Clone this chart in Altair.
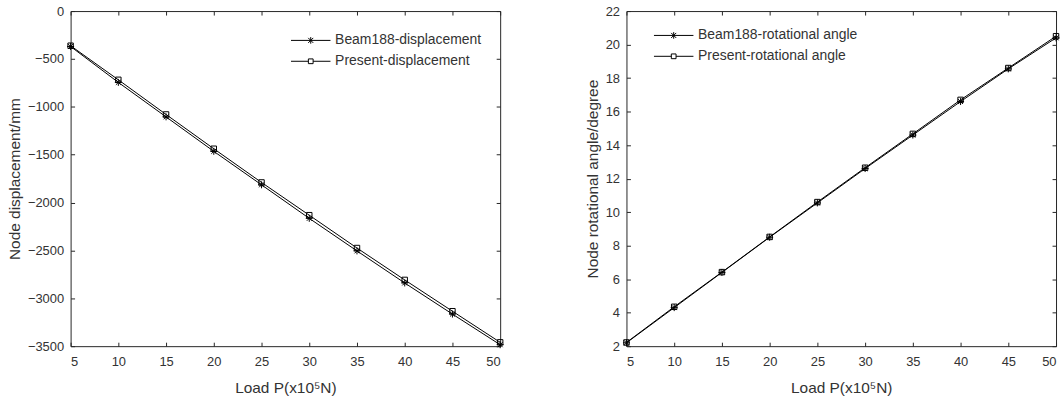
import altair as alt
import pandas as pd

# ---- data ----
P = [5, 10, 15, 20, 25, 30, 35, 40, 45, 50]
beam_disp = [-370, -745, -1105, -1465, -1815, -2165, -2505, -2840, -3165, -3485]
present_disp = [-362, -718, -1080, -1438, -1790, -2132, -2475, -2808, -3135, -3460]
beam_rot = [2.2, 4.3, 6.4, 8.5, 10.55, 12.6, 14.6, 16.6, 18.55, 20.4]
present_rot = [2.22, 4.35, 6.42, 8.52, 10.6, 12.65, 14.67, 16.7, 18.6, 20.5]

x_ticks = [5, 10, 15, 20, 25, 30, 35, 40, 45, 50]
disp_ticks = [0, -500, -1000, -1500, -2000, -2500, -3000, -3500]
rot_ticks = [2, 4, 6, 8, 10, 12, 14, 16, 18, 20, 22]

x_title = "Load P(x10\u2075N)"
FONT = "Liberation Sans, Arial, Helvetica, sans-serif"
TXT = "#333333"
AX = "#262626"

STAR = "M-1,0H1M0,-1V1M-0.7,-0.7L0.7,0.7M-0.7,0.7L0.7,-0.7"
LEG_STAR = "M-3,0H3M0,-0.5V0.5M-0.38,-0.38L0.38,0.38M-0.38,0.38L0.38,-0.38"
LEG_SQUARE = "M-3,0H-0.36M0.36,0H3M-0.36,-0.36H0.36V0.36H-0.36Z"


def panel(beam, present, name_b, name_p, ytitle, ydomain, yticks, lx, ly):
    df = pd.DataFrame({
        "P": P * 2,
        "v": beam + present,
        "s": [name_b] * len(P) + [name_p] * len(P),
    })
    xs = alt.Scale(domain=[5, 50], nice=False, zero=False)
    ys = alt.Scale(domain=ydomain, nice=False, zero=False)
    base = alt.Chart(df)
    expr = "datum.value === '%s' ? '%s' : '%s'" % (name_b, LEG_STAR, LEG_SQUARE)
    line = base.mark_line(strokeWidth=1, color="#000").encode(
        x=alt.X("P:Q", scale=xs, axis=alt.Axis(
            values=x_ticks, title=x_title, orient="bottom", domain=False, format="d",
            tickSize=4, offset=-4, labelPadding=9, titlePadding=13,
            grid=False, tickColor=AX)),
        y=alt.Y("v:Q", scale=ys, axis=alt.Axis(
            values=yticks, title=ytitle, orient="left", domain=False, format="d",
            tickSize=4, offset=-4, labelPadding=7, titlePadding=5,
            grid=False, tickColor=AX)),
        color=alt.Color("s:N", scale=alt.Scale(domain=[name_b, name_p], range=["#000", "#000"]),
                        legend=alt.Legend(
                            title=None, orient="none", legendX=lx, legendY=ly,
                            labelFont=FONT, labelFontSize=14, labelColor=TXT, labelLimit=400,
                            symbolSize=175, labelOffset=17, rowPadding=6, padding=0,
                            symbolStrokeWidth=1, symbolFillColor="transparent",
                            symbolStrokeColor="#000",
                            symbolType={"expr": expr})),
    )
    pts_b = base.transform_filter(alt.datum.s == name_b).mark_point(
        shape=STAR, size=49, filled=False, color="#000", strokeWidth=1, opacity=1
    ).encode(
        x=alt.X("P:Q", scale=xs, axis=alt.Axis(
            values=x_ticks, orient="top", labels=False, title=None, domain=False,
            tickSize=4, offset=-4, grid=False, tickColor=AX)),
        y=alt.Y("v:Q", scale=ys, axis=alt.Axis(
            values=yticks, orient="right", labels=False, title=None, domain=False,
            tickSize=4, offset=-4, grid=False, tickColor=AX)),
    )
    pts_p = base.transform_filter(alt.datum.s == name_p).mark_point(
        shape="square", size=30, filled=False, color="#000", strokeWidth=1, opacity=1
    ).encode(
        x=alt.X("P:Q", scale=xs, axis=None),
        y=alt.Y("v:Q", scale=ys, axis=None),
    )
    return alt.layer(line, pts_b, pts_p).resolve_axis(x="independent", y="independent").properties(
        width=432, height=337)


left = panel(beam_disp, present_disp, "Beam188-displacement", "Present-displacement",
             "Node displacement/mm", [-3500, 0], disp_ticks, 234, 22)
right = panel(beam_rot, present_rot, "Beam188-rotational angle", "Present-rotational angle",
              "Node rotational angle/degree", [2, 22], rot_ticks, 40, 17)

chart = alt.hconcat(left, right, spacing=79).resolve_scale(color="independent").resolve_legend(
    color="independent").properties(
    padding={"left": 6, "top": 3, "right": 0, "bottom": 0},
    background="white",
).configure_view(stroke=AX, strokeWidth=1).configure_axis(
    labelFont=FONT, labelFontSize=13, labelColor=TXT,
    titleFont=FONT, titleFontSize=15.5, titleColor=TXT, titleFontWeight="normal",
)

chart.save("out.html", embed_options={"renderer": "svg", "actions": False})
